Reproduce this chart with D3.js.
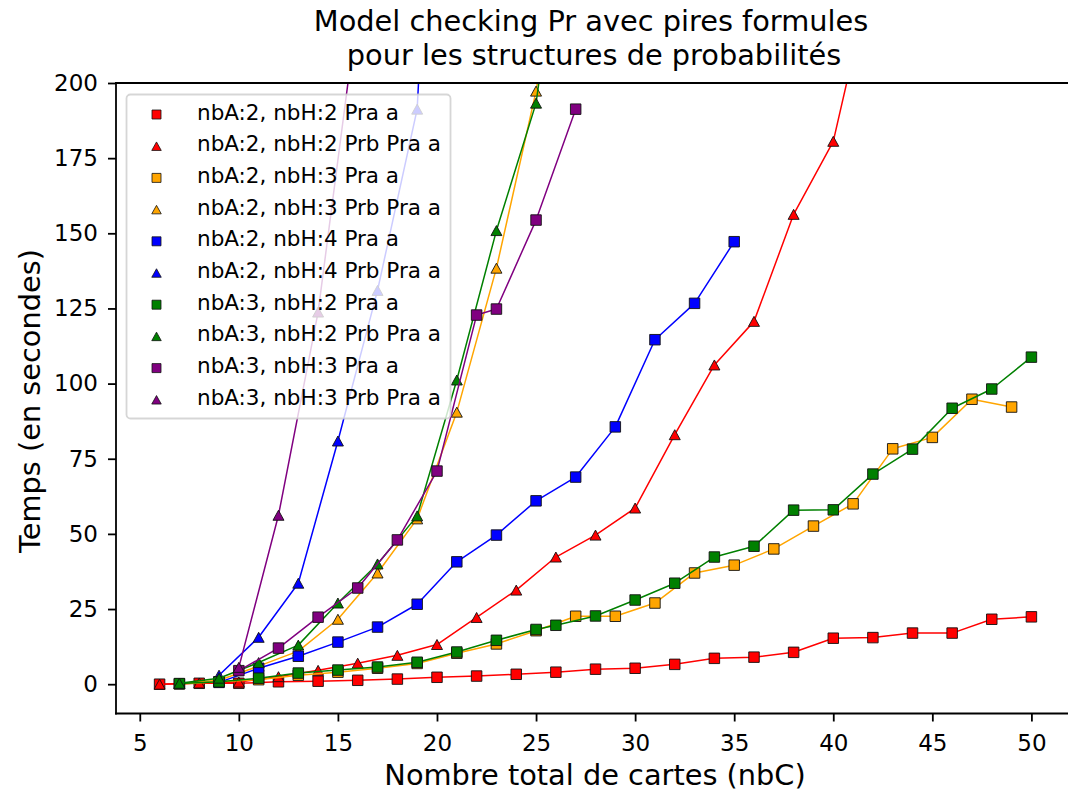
<!DOCTYPE html>
<html>
<head>
<meta charset="utf-8">
<script src="https://cdn.jsdelivr.net/npm/d3@7"></script>
<style>
  body { margin: 0; background: #fff; }
  svg { display: block; }
  text { font-family: "DejaVu Sans", sans-serif; fill: #000; }
</style>
</head>
<body>
<svg id="chart" width="1068" height="796"></svg>
<script>
// ---------------- DATA ----------------
const seriesLabels = [
  "nbA:2, nbH:2 Pra a", "nbA:2, nbH:2 Prb Pra a",
  "nbA:2, nbH:3 Pra a", "nbA:2, nbH:3 Prb Pra a",
  "nbA:2, nbH:4 Pra a", "nbA:2, nbH:4 Prb Pra a",
  "nbA:3, nbH:2 Pra a", "nbA:3, nbH:2 Prb Pra a",
  "nbA:3, nbH:3 Pra a", "nbA:3, nbH:3 Prb Pra a"
];

const xA2H2 = [6, 8, 10, 12, 14, 16, 18, 20, 22, 24, 26, 28, 30, 32, 34, 36, 38, 40, 42, 44, 46, 48, 50];
const yA2H2 = [0, 0.3, 0.3, 0.8, 1.0, 1.3, 1.7, 2.3, 2.7, 3.3, 4.0, 5.0, 5.3, 6.6, 8.6, 9.0, 10.6, 15.3, 15.5, 17.0, 17.0, 21.6, 22.4];

const xA2H2Prb = [6, 8, 10, 12, 14, 16, 18, 20, 22, 24, 26, 28, 30, 32, 34, 36, 38, 40, 42];
const yA2H2Prb = [0, 0.4, 0.7, 2.5, 4.6, 7.0, 9.6, 13.2, 22.2, 31.3, 42.3, 49.6, 58.6, 83.0, 106.2, 120.7, 156.3, 180.6, 238];

const xA2H3 = [7, 9, 11, 13, 15, 17, 19, 21, 23, 25, 27, 29, 31, 33, 35, 37, 39, 41, 43, 45, 47, 49];
const yA2H3 = [0.1, 0.8, 1.5, 3.0, 4.0, 5.3, 6.9, 10.3, 13.4, 17.8, 22.6, 22.6, 27.0, 37.0, 39.6, 45.0, 52.6, 60.0, 78.3, 82.1, 94.8, 92.2];

const xA2H3Prb = [7, 9, 11, 13, 15, 17, 19, 21, 23, 25, 27];
const yA2H3Prb = [0.2, 1.3, 6.0, 11.0, 21.6, 37.0, 55.0, 90.5, 138.4, 197.3, 280];

const xA2H4 = [9, 11, 13, 15, 17, 19, 21, 23, 25, 27, 29, 31, 33, 35];
const yA2H4 = [0.6, 5.3, 9.3, 14.0, 19.0, 26.6, 40.7, 49.6, 61.0, 68.9, 85.6, 114.6, 126.7, 147.2];

const xA2H4Prb = [9, 11, 13, 15, 17, 19, 21];
const yA2H4Prb = [3.0, 15.6, 33.6, 80.9, 131.0, 191.3, 450];

const xA3H2 = [7, 9, 11, 13, 15, 17, 19, 21, 23, 25, 26, 28, 30, 32, 34, 36, 38, 40, 42, 44, 46, 48, 50];
const yA3H2 = [0.2, 0.8, 2.0, 3.7, 4.7, 5.7, 7.3, 10.7, 14.6, 18.2, 19.6, 22.7, 28.0, 33.6, 42.3, 45.9, 57.9, 58.0, 69.9, 78.2, 91.8, 98.2, 108.8];

const xA3H2Prb = [7, 9, 11, 13, 15, 17, 19, 21, 23, 25, 27];
const yA3H2Prb = [0.3, 2.0, 7.2, 13.0, 27.0, 40.0, 56.0, 101.2, 150.9, 193.3, 290];

const xA3H3 = [10, 12, 14, 16, 18, 20, 22, 23, 25, 27];
const yA3H3 = [4.5, 12.0, 22.3, 32.0, 48.0, 70.9, 122.8, 124.8, 154.4, 191.3];

const xA3H3Prb = [10, 12, 14, 16];
const yA3H3Prb = [5.6, 56.2, 123.8, 225];

const xTicks = [5, 10, 15, 20, 25, 30, 35, 40, 45, 50];
const yTicks = [0, 25, 50, 75, 100, 125, 150, 175, 200];

// ---------------- STYLE / LAYOUT ----------------
const colors = ["red", "red", "orange", "orange", "blue", "blue", "green", "green", "purple", "purple"];
const shapes = ["s", "^", "s", "^", "s", "^", "s", "^", "s", "^"];
const xsList = [xA2H2, xA2H2Prb, xA2H3, xA2H3Prb, xA2H4, xA2H4Prb, xA3H2, xA3H2Prb, xA3H3, xA3H3Prb];
const ysList = [yA2H2, yA2H2Prb, yA2H3, yA2H3Prb, yA2H4, yA2H4Prb, yA3H2, yA3H2Prb, yA3H3, yA3H3Prb];

const series = seriesLabels.map((label, i) => ({
  label, color: colors[i], shape: shapes[i],
  points: xsList[i].map((xv, j) => ({ x: xv, y: ysList[i][j] }))
}));

const m = { left: 116, right: 1075, top: 83, bottom: 713.5 };
const svg = d3.select("#chart");

const x = d3.scaleLinear().domain([3.8, 52.2]).range([m.left, m.right]);
const y = d3.scaleLinear().domain([-9.75, 200]).range([m.bottom, m.top]);

function squarePath(s) { return `M${-s/2},${-s/2}h${s}v${s}h${-s}Z`; }
function triPath(w, h) { return `M0,${-h/2}L${w/2},${h/2}L${-w/2},${h/2}Z`; }

svg.append("defs").append("clipPath").attr("id", "plotclip")
  .append("rect")
  .attr("x", m.left).attr("y", m.top)
  .attr("width", m.right - m.left).attr("height", m.bottom - m.top);

// ---------------- DATA MARKS ----------------
const plot = svg.append("g").attr("clip-path", "url(#plotclip)");
const line = d3.line().x(d => x(d.x)).y(d => y(d.y));

series.forEach(s => {
  const g = plot.append("g");
  g.append("path")
    .datum(s.points)
    .attr("d", line)
    .attr("fill", "none")
    .attr("stroke", s.color)
    .attr("stroke-width", 1.5)
    .attr("stroke-linejoin", "round");
  g.selectAll("path.mk")
    .data(s.points)
    .join("path")
    .attr("class", "mk")
    .attr("transform", d => `translate(${x(d.x)},${y(d.y)})`)
    .attr("d", s.shape === "s" ? squarePath(10.5) : triPath(11, 10))
    .attr("fill", s.color)
    .attr("stroke", "#111")
    .attr("stroke-width", 0.9);
});

// ---------------- AXES ----------------
const yAxis = d3.axisLeft(y).tickValues(yTicks).tickSize(8).tickPadding(10);
const gy = svg.append("g").attr("transform", `translate(${m.left},0)`).call(yAxis);
gy.select(".domain").remove();
gy.selectAll(".tick line").attr("stroke", "#000").attr("stroke-width", 1.8);
gy.selectAll(".tick text")
  .attr("font-size", 23).attr("font-family", '"DejaVu Sans", sans-serif')
  .attr("fill", "#000");

const xAxis = d3.axisBottom(x).tickValues(xTicks).tickSize(8).tickPadding(13);
const gx = svg.append("g").attr("transform", `translate(0,${m.bottom})`).call(xAxis);
gx.select(".domain").remove();
gx.selectAll(".tick line").attr("stroke", "#000").attr("stroke-width", 1.8);
gx.selectAll(".tick text")
  .attr("font-size", 23).attr("font-family", '"DejaVu Sans", sans-serif')
  .attr("fill", "#000");

// spines
const spines = svg.append("g").attr("stroke", "#000").attr("stroke-width", 1.8).attr("stroke-linecap", "square");
spines.append("line").attr("x1", m.left).attr("x2", m.left).attr("y1", m.top).attr("y2", m.bottom);
spines.append("line").attr("x1", m.left).attr("x2", m.right).attr("y1", m.bottom).attr("y2", m.bottom);
spines.append("line").attr("x1", m.left).attr("x2", m.right).attr("y1", m.top).attr("y2", m.top);
spines.append("line").attr("x1", m.right).attr("x2", m.right).attr("y1", m.top).attr("y2", m.bottom);

// ---------------- LEGEND ----------------
const leg = svg.append("g");
leg.append("rect")
  .attr("x", 126.5).attr("y", 94.5).attr("width", 324).attr("height", 324)
  .attr("rx", 4).attr("ry", 4)
  .attr("fill", "#fff").attr("fill-opacity", 0.8)
  .attr("stroke", "#cccccc").attr("stroke-opacity", 0.8).attr("stroke-width", 1.8);

series.forEach((s, i) => {
  const cy = 114.5 + i * 31.7;
  leg.append("path")
    .attr("transform", `translate(156.5,${cy})`)
    .attr("d", s.shape === "s" ? squarePath(9) : triPath(9.5, 8.5))
    .attr("fill", s.color)
    .attr("stroke", "#111").attr("stroke-width", 0.8);
  leg.append("text")
    .attr("x", 197).attr("y", 119.5 + i * 31.7)
    .attr("font-size", 21.5)
    .text(s.label);
});

// ---------------- TITLES ----------------
const title = svg.append("text").attr("text-anchor", "middle").attr("font-size", 28.8);
title.append("tspan").attr("x", 591).attr("y", 31).text("Model checking Pr avec pires formules");
title.append("tspan").attr("x", 594).attr("y", 65).text("pour les structures de probabilités");

svg.append("text")
  .attr("x", 595).attr("y", 785)
  .attr("text-anchor", "middle").attr("font-size", 28.8)
  .text("Nombre total de cartes (nbC)");

svg.append("text")
  .attr("transform", "translate(40,401) rotate(-90)")
  .attr("text-anchor", "middle").attr("font-size", 28.8)
  .text("Temps (en secondes)");
</script>
</body>
</html>
